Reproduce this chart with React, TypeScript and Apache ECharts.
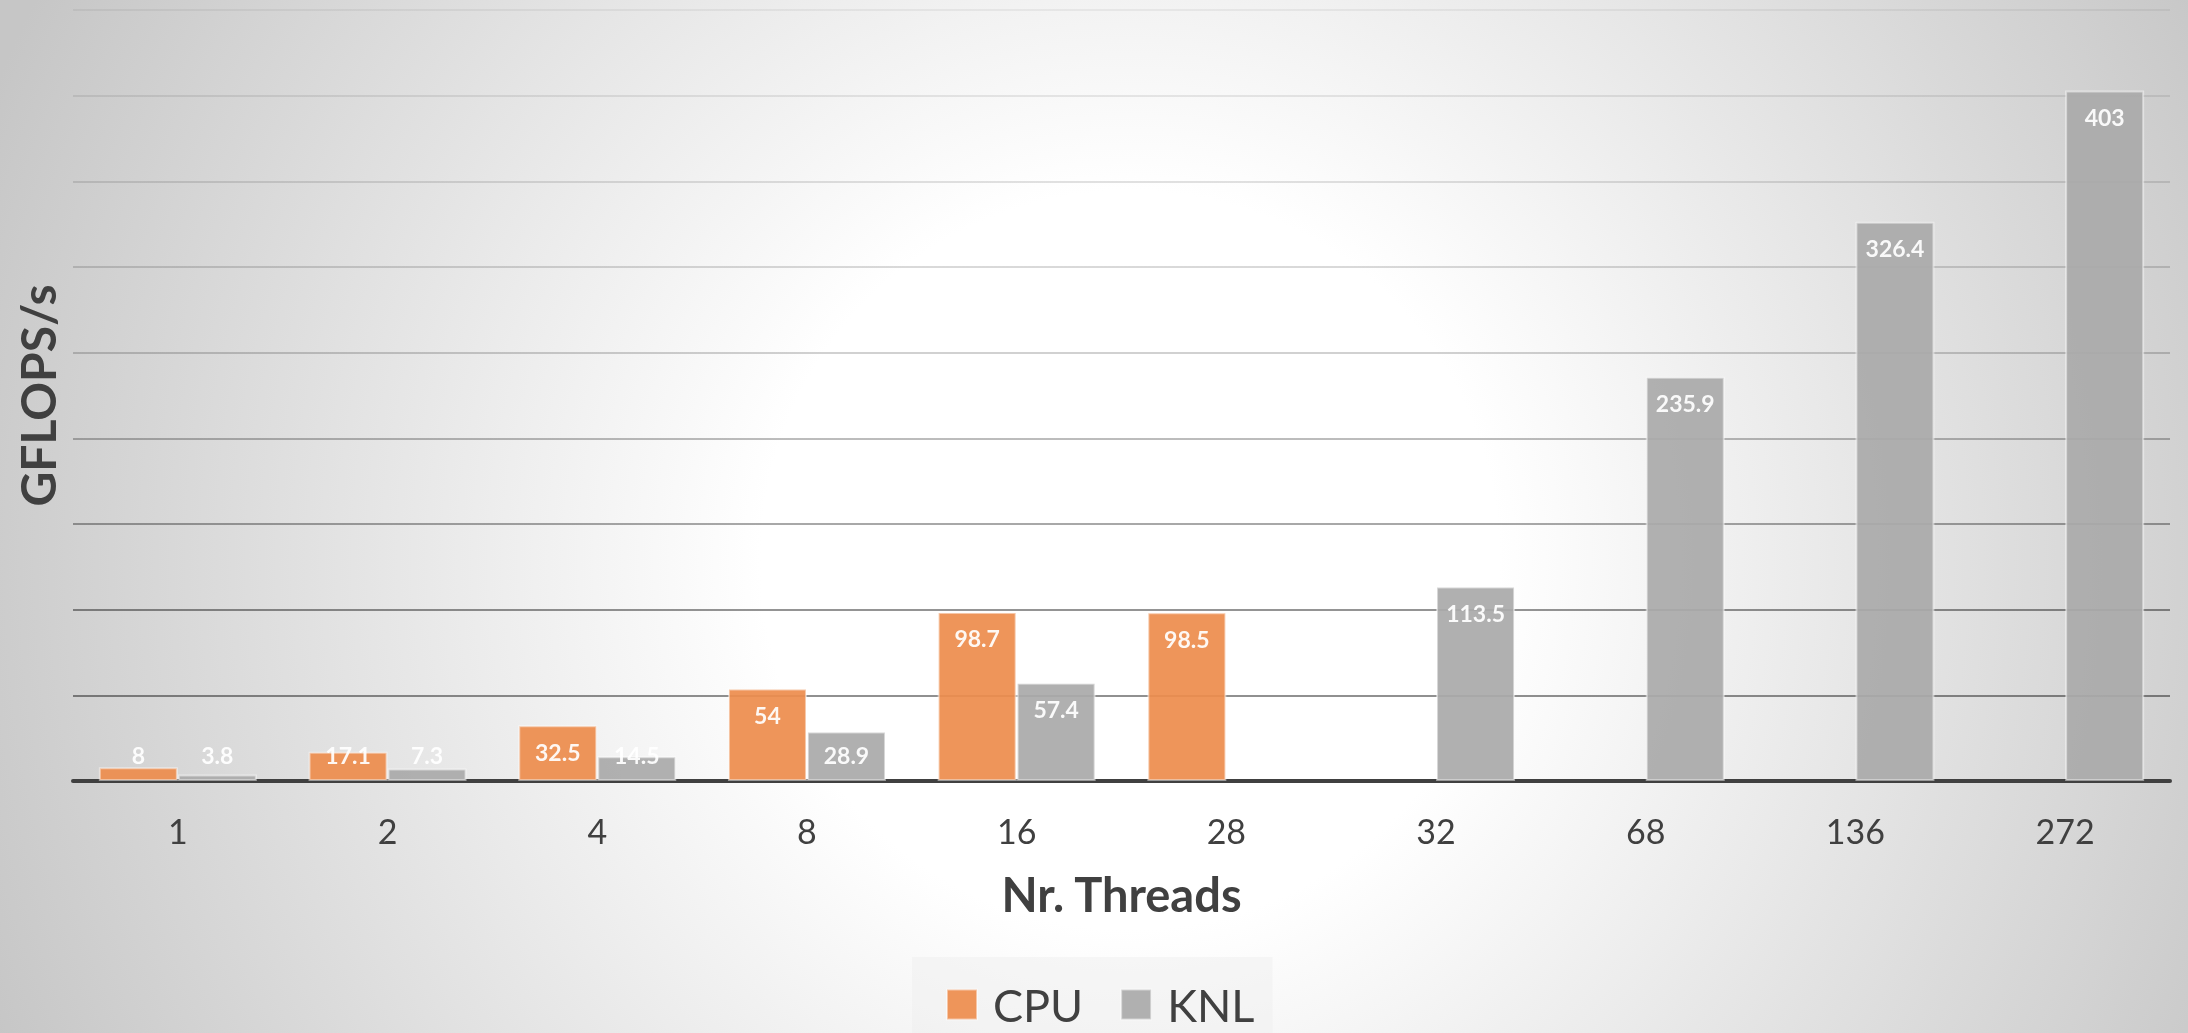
import React, { useEffect, useRef } from "react";
import * as echarts from "echarts";

// Thread counts on the x axis
const threads = ["1", "2", "4", "8", "16", "28", "32", "68", "136", "272"];
// Measured throughput in GFLOPS/s (null where the platform was not run)
const cpuGflops: (number | null)[] = [8, 17.1, 32.5, 54, 98.7, 98.5, null, null, null, null];
const knlGflops: (number | null)[] = [3.8, 7.3, 14.5, 28.9, 57.4, null, 113.5, 235.9, 326.4, 403];
const seriesNames = ["CPU", "KNL"];

const Y_MAX = 450;
const Y_STEP = 50;
// Bars lower than this keep their label just above the axis
const SHORT_BAR = 29;

const W = 2188;
const H = 1033;
const TEXT = "#404040";
const FONT = "Lato";

function toData(vals: (number | null)[]) {
  return vals.map((v) =>
    v == null
      ? null
      : v < SHORT_BAR
      ? { value: v, label: { position: "insideBottom", distance: 15 } }
      : { value: v }
  );
}

export default function App() {
  const ref = useRef<HTMLDivElement>(null);

  useEffect(() => {
    document.body.style.margin = "0";
    const chart = echarts.init(ref.current!, null, { renderer: "svg" });

    const background = new echarts.graphic.RadialGradient(
      1130,
      560,
      1230,
      [
        { offset: 0, color: "#ffffff" },
        { offset: 0.3, color: "#ffffff" },
        { offset: 1, color: "#c6c6c6" },
      ],
      true
    );

    const gridGradient = new echarts.graphic.LinearGradient(
      0,
      0,
      0,
      781,
      [
        { offset: 0, color: "rgba(0,0,0,0.05)" },
        { offset: 0.45, color: "rgba(0,0,0,0.18)" },
        { offset: 0.78, color: "rgba(0,0,0,0.42)" },
        { offset: 1, color: "rgba(0,0,0,0.45)" },
      ],
      true
    );

    const valueLabel = {
      show: true,
      position: "insideTop",
      distance: 15,
      color: "#ffffff",
      fontFamily: FONT,
      fontWeight: "bold",
      fontSize: 23,
    };

    chart.setOption({
      animation: false,
      graphic: [
        {
          type: "rect",
          z: -100,
          silent: true,
          shape: { x: 0, y: 0, width: W, height: H },
          style: { fill: background },
        },
      ],
      grid: { left: 73, right: W - 2170, top: 10, bottom: H - 781, containLabel: false },
      legend: {
        data: seriesNames,
        left: 912,
        top: 957,
        padding: [25, 18, 40, 34],
        backgroundColor: "rgba(238,238,238,0.45)",
        itemWidth: 30,
        itemHeight: 30,
        itemGap: 37,
        icon: "rect",
        textStyle: {
          color: TEXT,
          fontFamily: FONT,
          fontSize: 45,
          padding: [0, 0, 0, 11],
        },
      },
      xAxis: {
        type: "category",
        data: threads,
        name: "Nr. Threads",
        nameLocation: "middle",
        nameGap: 89,
        nameTextStyle: { color: TEXT, fontFamily: FONT, fontWeight: "bold", fontSize: 47 },
        axisLine: { show: true, lineStyle: { color: TEXT, width: 4 } },
        axisTick: { show: false },
        axisLabel: { color: TEXT, fontFamily: FONT, fontSize: 34, margin: 32 },
        splitLine: { show: false },
      },
      yAxis: {
        type: "value",
        min: 0,
        max: Y_MAX,
        interval: Y_STEP,
        name: "GFLOPS/s",
        nameLocation: "middle",
        nameGap: 12,
        nameTextStyle: { color: TEXT, fontFamily: FONT, fontWeight: "bold", fontSize: 48 },
        axisLine: { show: false },
        axisTick: { show: false },
        axisLabel: { show: false },
        splitLine: { show: true, lineStyle: { color: gridGradient, width: 2 } },
      },
      series: [
        {
          name: seriesNames[0],
          type: "bar",
          data: toData(cpuGflops),
          barWidth: 79,
          barGap: "0%",
          itemStyle: {
            color: "#ED8D4E",
            opacity: 0.93,
            borderColor: "rgba(255,255,255,0.5)",
            borderWidth: 2,
          },
          label: valueLabel,
        },
        {
          name: seriesNames[1],
          type: "bar",
          data: toData(knlGflops),
          barWidth: 79,
          barGap: "0%",
          itemStyle: {
            color: "#AAAAAA",
            opacity: 0.93,
            borderColor: "rgba(255,255,255,0.5)",
            borderWidth: 2,
          },
          label: valueLabel,
        },
      ],
    });

    return () => chart.dispose();
  }, []);

  return (
    <div
      ref={ref}
      style={{ position: "fixed", left: 0, top: 0, width: W, height: H }}
    />
  );
}
